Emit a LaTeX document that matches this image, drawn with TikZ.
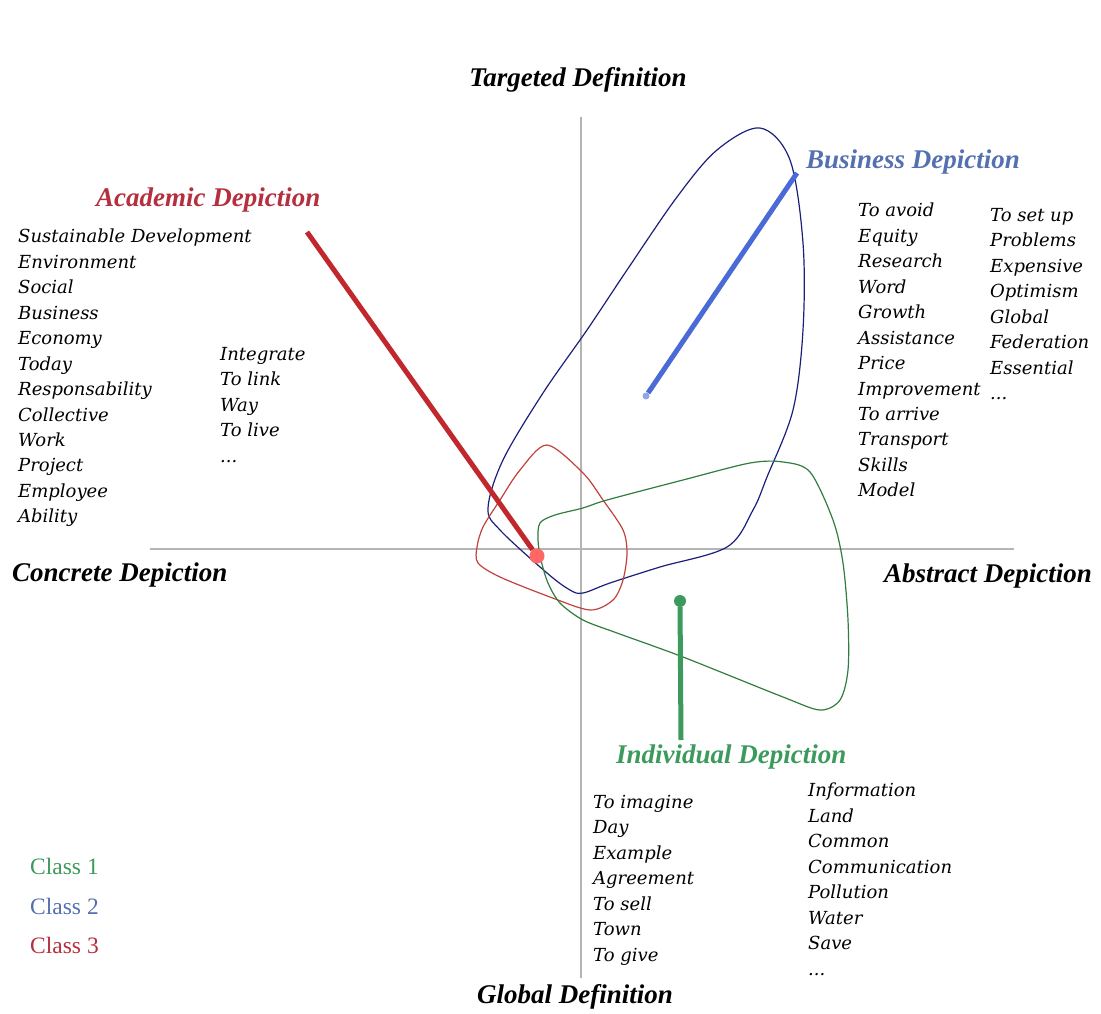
\documentclass[tikz,border=0pt]{standalone}
\usepackage{fontspec}
\setmainfont{Liberation Serif}
\newfontfamily\wordfont{DejaVu Serif}
\usepackage{xcolor}
\usetikzlibrary{positioning}

\definecolor{axisgray}{HTML}{B4B4B4}
\definecolor{acadred}{HTML}{B5303E}
\definecolor{bizblue}{HTML}{5470B0}
\definecolor{indgreen}{HTML}{3C9A5C}
\definecolor{navyline}{HTML}{1C1F7A}
\definecolor{rustline}{HTML}{C2413C}
\definecolor{leafline}{HTML}{2F7D3F}
\definecolor{bizpointer}{HTML}{4A6BD6}
\definecolor{acadpointer}{HTML}{C0282D}

\begin{document}
\begin{tikzpicture}[x=1pt,y=-1pt,
	axis/.style={draw=axisgray, line width=1.2pt},
	heading/.style={font=\fontsize{27}{30}\selectfont\bfseries\itshape, inner sep=0pt},
	words/.style={font=\wordfont\itshape\fontsize{18}{25.45}\selectfont, align=left, anchor=north west, inner sep=0pt},
	outline/.style={line width=1.2pt},
	pointer/.style={line width=5pt},
	classlbl/.style={font=\fontsize{23.5}{26}\selectfont, anchor=west, inner sep=0pt}]
		\useasboundingbox (0,0) rectangle (1101,1014);

		% Axes
		\coordinate (axL) at (150,549);
		\coordinate (axR) at (1014,549);
		\coordinate (axT) at (581,117);
		\coordinate (axB) at (581,978);
		\draw[axis] (axL) -- (axR);
		\draw[axis] (axT) -- (axB);

		% Class outlines
		\draw[outline, navyline] plot[smooth cycle, tension=0.55] coordinates {
			(760,128) (790,160) (803,243) (803,330) (793,410) (767,477) (753,510)
			(727,547) (660,567) (610,583) (583,593) (570,590) (547,573) (500,530)
			(488,508) (503,460) (543,393) (587,330) (627,270) (677,197) (717,150)};
		\draw[outline, rustline] plot[smooth cycle, tension=0.5] coordinates {
			(547,445) (583,473) (603,500) (623,530) (627,553) (623,580) (613,600)
			(590,610) (550,597) (500,577) (478,563) (477,547) (483,527) (500,500)
			(520,470)};
		\draw[outline, leafline] plot[smooth cycle, tension=0.5] coordinates {
			(540,523) (555,515) (583,508) (607,500) (683,480) (750,463) (783,462)
			(810,472) (833,520) (843,563) (848,620) (848,670) (840,700) (820,710)
			(783,697) (683,657) (617,633) (583,620) (560,603) (548,583) (541,560)
			(538,540)};

		% Pointers
		\node[circle, fill=red!60!white, inner sep=0pt, minimum size=15pt] (acadDot) at (537,556) {};
		\node[circle, fill=bizpointer!60!white, inner sep=0pt, minimum size=7pt] (bizDot) at (646,396) {};
		\node[circle, fill=indgreen, inner sep=0pt, minimum size=12pt] (indDot) at (680,601) {};
		\coordinate (acadTip) at (307,232);
		\coordinate (bizTip) at (797,173);
		\coordinate (indTip) at (681,740);
		\draw[pointer, color=acadpointer] (acadTip) -- (acadDot);
		\draw[pointer, color=bizpointer] (bizTip) -- (bizDot);
		\draw[pointer, color=indgreen] (indDot) -- (indTip);

		% Axis titles
		\node[heading] (targeted) at (578,80) {Targeted Definition};
		\node[heading] (global) at (575,997) {Global Definition};
		\node[heading, anchor=west] (concrete) at (12,575) {Concrete Depiction};
		\node[heading, anchor=west] (abstract) at (884,576) {Abstract Depiction};

		% Depictions
		\node[heading, anchor=west, acadred] (acad) at (96,200) {Academic Depiction};
		\node[heading, anchor=west, bizblue] (biz) at (806,162) {Business Depiction};
		\node[heading, anchor=west, indgreen] (ind) at (616,757) {Individual Depiction};

		% Word lists
		\node[words] (acadA) at (18,229) {Sustainable Development\\Environment\\Social\\Business\\Economy\\Today\\Responsability\\Collective\\Work\\Project\\Employee\\Ability};
		\node[words] (acadB) at (220,347) {Integrate\\To link\\Way\\To live\\...};
		\node[words] (bizA) at (858,203) {To avoid\\Equity\\Research\\Word\\Growth\\Assistance\\Price\\Improvement\\To arrive\\Transport\\Skills\\Model};
		\node[words] (bizB) at (990,208) {To set up\\Problems\\Expensive\\Optimism\\Global\\Federation\\Essential\\...};
		\node[words] (indA) at (593,795) {To imagine\\Day\\Example\\Agreement\\To sell\\Town\\To give};
		\node[words] (indB) at (808,783) {Information\\Land\\Common\\Communication\\Pollution\\Water\\Save\\...};

		% Legend
		\node[classlbl, indgreen] (class1) at (30,866) {Class 1};
		\node[classlbl, bizblue] (class2) at (30,906) {Class 2};
		\node[classlbl, acadred] (class3) at (30,945) {Class 3};
\end{tikzpicture}
\end{document}
